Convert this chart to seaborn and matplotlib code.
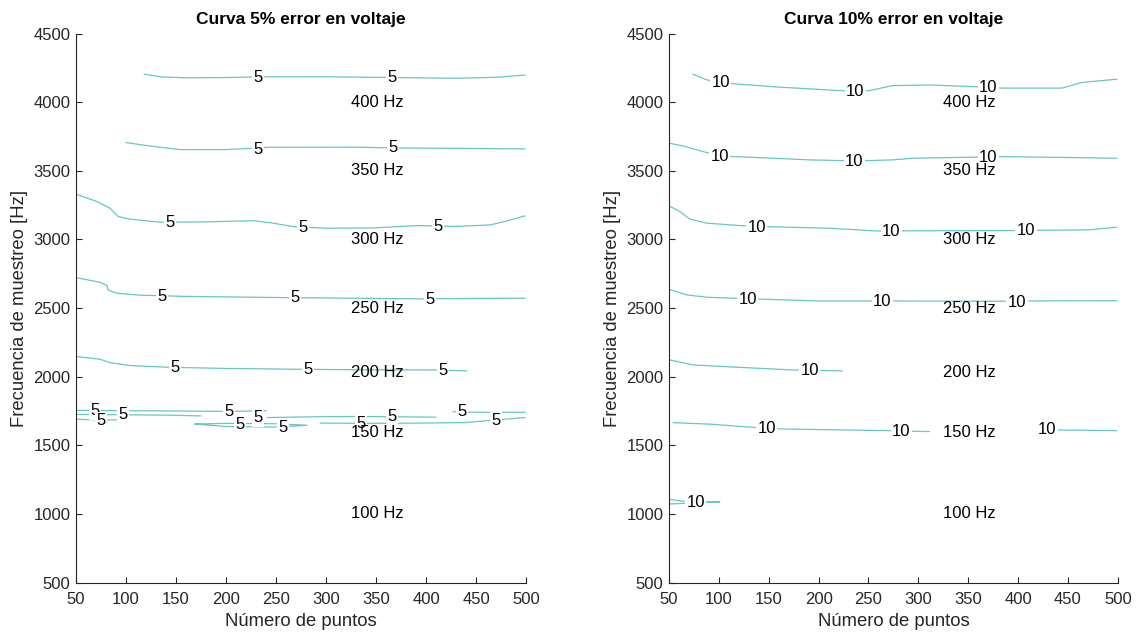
import matplotlib
matplotlib.use("Agg")
import matplotlib.pyplot as plt
import seaborn as sns
import pandas as pd

# ---------------- data ----------------
freq_text = ["400 Hz", "350 Hz", "300 Hz", "250 Hz", "200 Hz", "150 Hz", "100 Hz"]
freq_text_y = [4000, 3500, 3000, 2500, 2030, 1590, 1000]
freq_text_x = 325

x_ticks = [50, 100, 150, 200, 250, 300, 350, 400, 450, 500]
y_ticks = [500, 1000, 1500, 2000, 2500, 3000, 3500, 4000, 4500]

# 5 % error contours (x = number of points, y = sampling frequency)
c5_400 = [(118, 4205), (135, 4185), (160, 4178), (200, 4180), (232, 4185), (300, 4186),
          (366, 4180), (430, 4175), (470, 4182), (499, 4198)]
c5_350 = [(100, 3706), (125, 3680), (154, 3655), (200, 3655), (244, 3672), (327, 3673),
          (367, 3667), (414, 3665), (499, 3660)]
c5_300 = [(50, 3330), (71, 3276), (84, 3228), (92, 3167), (104, 3148), (134, 3126),
          (180, 3128), (227, 3137), (247, 3119), (267, 3094), (300, 3082), (347, 3084),
          (391, 3101), (430, 3095), (464, 3106), (481, 3135), (499, 3172)]
c5_250 = [(50, 2722), (74, 2688), (81, 2664), (82, 2632), (91, 2608), (114, 2594),
          (160, 2585), (261, 2576), (330, 2572), (394, 2567), (440, 2570), (499, 2572)]
c5_200 = [(51, 2146), (74, 2127), (84, 2102), (104, 2081), (141, 2069), (200, 2060),
          (274, 2054), (340, 2050), (407, 2049), (441, 2042)]
c5_150a = [(50, 1755), (100, 1752), (150, 1750), (203, 1747), (240, 1752)]
c5_150b = [(50, 1725), (100, 1722), (140, 1720), (175, 1714)]
c5_150c = [(50, 1690), (75, 1684), (100, 1686)]
c5_150d = [(169, 1655), (200, 1660), (250, 1657), (281, 1646), (250, 1633), (200, 1637), (169, 1655)]
c5_150e = [(241, 1702), (290, 1708), (330, 1710), (366, 1708), (410, 1705)]
c5_150f = [(294, 1662), (340, 1660), (400, 1662), (440, 1666), (470, 1685), (499, 1702)]
c5_150g = [(427, 1745), (436, 1743), (460, 1740), (499, 1741)]
c5_lines = [c5_400, c5_350, c5_300, c5_250, c5_200,
            c5_150a, c5_150b, c5_150c, c5_150d, c5_150e, c5_150f, c5_150g]
c5_labels = [(232, 4183), (366, 4180), (232, 3655), (367, 3667),
             (144, 3122), (277, 3085), (412, 3097),
             (136, 2586), (269, 2575), (404, 2564),
             (149, 2066), (282, 2052), (417, 2044),
             (69, 1750), (75, 1680), (97, 1722), (203, 1747), (214, 1655),
             (232, 1700), (257, 1632), (335, 1660), (366, 1708), (436, 1743), (470, 1682)]
c5_label_text = "5"

# 10 % error contours
c10_400 = [(74, 4205), (88, 4163), (102, 4144), (116, 4134), (161, 4110), (221, 4085),
           (237, 4080), (251, 4085), (274, 4121), (311, 4126), (358, 4113), (384, 4103),
           (444, 4103), (464, 4144), (499, 4168)]
c10_350 = [(50, 3702), (64, 3682), (84, 3641), (101, 3606), (116, 3604), (191, 3580),
           (221, 3575), (251, 3575), (274, 3580), (294, 3592), (358, 3600), (384, 3604),
           (499, 3592)]
c10_300 = [(50, 3245), (61, 3203), (71, 3148), (88, 3119), (121, 3101), (154, 3092),
           (211, 3082), (258, 3062), (300, 3063), (391, 3065), (471, 3070), (499, 3089)]
c10_250 = [(50, 2637), (68, 2596), (88, 2579), (114, 2572), (198, 2552), (249, 2552),
           (384, 2550), (413, 2552), (499, 2554)]
c10_200 = [(51, 2122), (74, 2086), (118, 2069), (174, 2049), (224, 2042)]
c10_150a = [(54, 1665), (94, 1653), (134, 1631), (163, 1619), (268, 1607), (311, 1600)]
c10_150b = [(421, 1612), (460, 1610), (499, 1607)]
c10_100 = [(50, 1107), (62, 1094), (75, 1088), (101, 1087), (75, 1080), (50, 1072)]
c10_lines = [c10_400, c10_350, c10_300, c10_250, c10_200, c10_150a, c10_150b, c10_100]
c10_labels = [(102, 4144), (237, 4080), (370, 4105), (101, 3606), (236, 3570), (370, 3600),
              (138, 3090), (273, 3060), (408, 3064), (129, 2562), (264, 2548), (399, 2540),
              (191, 2042), (148, 1620), (283, 1600), (429, 1612), (77, 1082)]
c10_label_text = "10"

panel_titles = ["Curva 5% error en voltaje", "Curva 10% error en voltaje"]
x_label = "Número de puntos"
y_label = "Frecuencia de muestreo [Hz]"

# ---------------- drawing ----------------
sns.set_theme(style="white")
plt.rcParams["font.family"] = ["Liberation Sans", "DejaVu Sans"]

line_color = "#66c7c3"
axis_color = "#262626"

fig = plt.figure(figsize=(11.42, 6.36), dpi=100)
ax_l = fig.add_axes([0.0666, 0.0841, 0.394, 0.863])
ax_r = fig.add_axes([0.5858, 0.0841, 0.393, 0.863])


def to_frame(lines):
    rows = []
    for i, pts in enumerate(lines):
        for k, (x, y) in enumerate(pts):
            rows.append({"seg": i, "order": k, "x": x, "y": y})
    return pd.DataFrame(rows)


panels = [(ax_l, c5_lines, c5_labels, c5_label_text, panel_titles[0]),
          (ax_r, c10_lines, c10_labels, c10_label_text, panel_titles[1])]

for ax, lines, labels, ltxt, title in panels:
    df = to_frame(lines)
    sns.lineplot(data=df, x="x", y="y", units="seg", estimator=None, sort=False,
                 color=line_color, linewidth=0.9, ax=ax, legend=False)
    for (lx, ly) in labels:
        ax.text(lx, ly, ltxt, fontsize=12, ha="center", va="center", color="black",
                bbox=dict(boxstyle="square,pad=0.08", fc="white", ec="none"), zorder=5)
    for t, ty in zip(freq_text, freq_text_y):
        ax.text(freq_text_x, ty, t, fontsize=12, ha="left", va="center", color="black", zorder=6)

    ax.set_xlim(50, 500)
    ax.set_ylim(500, 4500)
    ax.set_xticks(x_ticks)
    ax.set_yticks(y_ticks)
    ax.set_xticklabels([str(v) for v in x_ticks])
    ax.set_yticklabels([str(v) for v in y_ticks])
    ax.tick_params(direction="in", length=4, width=0.8, colors=axis_color,
                   labelsize=12, bottom=True, left=True, top=False, right=False)
    ax.tick_params(axis="x", pad=7)
    ax.tick_params(axis="y", pad=4)
    for s in ["top", "right"]:
        ax.spines[s].set_visible(False)
    for s in ["left", "bottom"]:
        ax.spines[s].set_color(axis_color)
        ax.spines[s].set_linewidth(0.8)
    ax.set_xlabel(x_label, fontsize=13.3, color=axis_color, labelpad=4)
    ax.set_ylabel(y_label, fontsize=13.3, color=axis_color, labelpad=4)
    ax.set_title(title, fontsize=12.5, fontweight="bold", color="black", pad=7)
    ax.grid(False)
    ax.set_facecolor("white")

fig.savefig("out.png", dpi=100, facecolor="white")
